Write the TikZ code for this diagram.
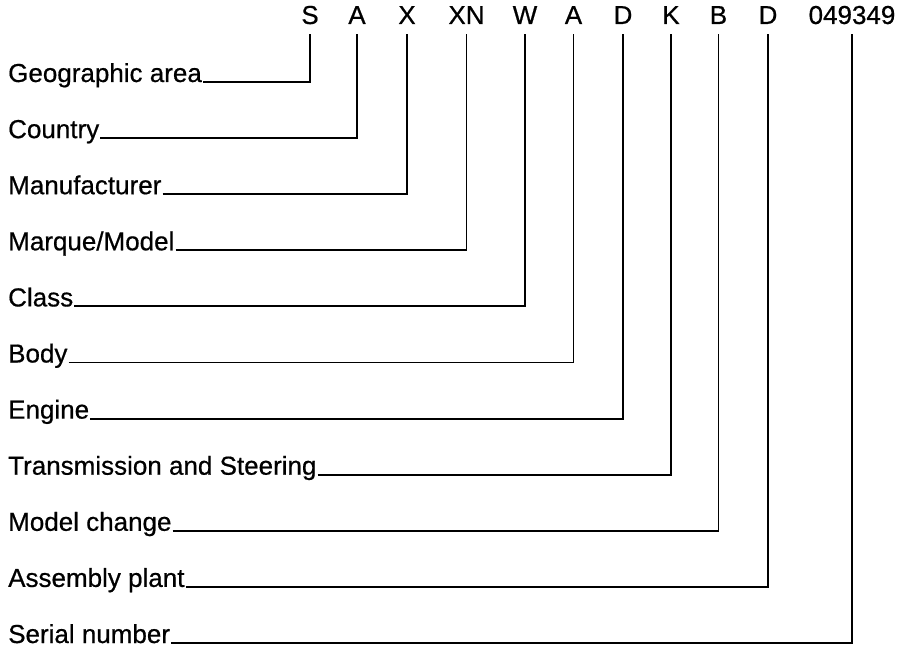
\documentclass[tikz,border=0pt]{standalone}
\usepackage{fontspec}
\setmainfont{Liberation Sans}
\newfontfamily\vinfont{Liberation Sans}[FakeBold=0.6]
\begin{document}
\begin{tikzpicture}[x=1pt,y=-1pt,
  every node/.style={inner sep=0pt, font=\vinfont\fontsize{26}{30}\selectfont},
  lbl/.style={anchor=base west},
  code/.style={anchor=base},
  conn/.style={draw=black, line width=1.9pt}]
\useasboundingbox (0,0) rectangle (901,650);
% top code characters
\foreach \n/\x/\t in {c1/310/S, c2/357/A, c3/407/X, c4/466.5/XN, c5/525/W, c6/573.5/A, c7/623/D, c8/671/K, c9/718.5/B, c10/768/D, c11/852/049349}
  \node[code] (\n) at (\x,24) {\t};
% labels
\foreach \n/\i/\t in {l1/0/{Geographic area}, l2/1/{Country}, l3/2/{Manufacturer}, l4/3/{Marque/Model}, l5/4/{Class}, l6/5/{Body}, l7/6/{Engine}, l8/7/{Transmission and Steering}, l9/8/{Model change}, l10/9/{Assembly plant}, l11/10/{Serial number}}
  \node[lbl] (\n) at (8,82+56.1*\i) {\t};
% connectors
\foreach \k in {1,...,11}
  \draw[conn] ([xshift=1pt]l\k.base east) -| ([yshift=-10pt]c\k.south);
\end{tikzpicture}
\end{document}
